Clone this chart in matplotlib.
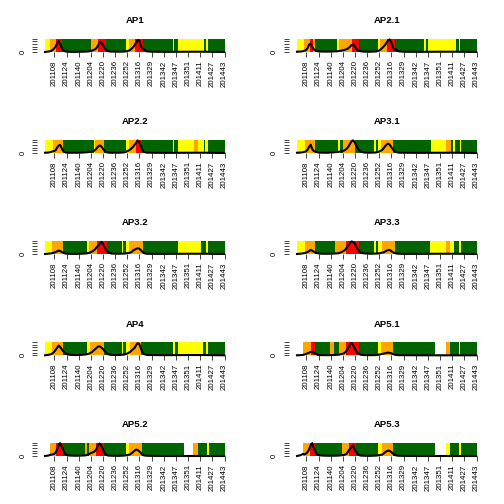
import numpy as np
import matplotlib
matplotlib.use("Agg")
import matplotlib.pyplot as plt

plt.rcParams["font.family"] = ["Liberation Sans", "DejaVu Sans"]

# x tick labels (one every 16 weeks of data)
week_labels = ["201108", "201124", "201140", "201204", "201220", "201236", "201252",
               "201316", "201329", "201342", "201347", "201351", "201411", "201427", "201443"]
n_weeks = 237

# alert level runs: Y yellow, O orange, R red, G green, W no data
ap1_levels = "YORGORGYORGYGYGYG"
ap1_ends = [7, 15, 23, 61, 70, 80, 107, 111, 118, 129, 168, 170, 175, 209, 212, 215, 237]
ap21_levels = "YOROGYORGYORGYGYGYG"
ap21_ends = [9, 17, 21, 24, 53, 55, 72, 81, 107, 109, 118, 129, 167, 170, 173, 210, 213, 215, 237]
ap22_levels = "YOGYOGYORGYGYOYGYG"
ap22_ends = [11, 24, 64, 66, 78, 107, 111, 120, 128, 168, 170, 175, 196, 202, 209, 211, 215, 237]
ap31_levels = "YOGYGOGYGYOGYOGYGYG"
ap31_ends = [10, 24, 54, 56, 61, 77, 101, 104, 107, 111, 127, 176, 196, 203, 206, 208, 214, 216, 237]
ap32_levels = "YOGYORGYGYOGYGYG"
ap32_ends = [9, 24, 55, 58, 68, 82, 101, 103, 107, 111, 129, 175, 206, 212, 215, 237]
ap33_levels = "YOGORGYGYOGYOYGYG"
ap33_ends = [10, 24, 50, 65, 81, 102, 104, 107, 112, 129, 175, 196, 201, 207, 213, 216, 237]
ap4_levels = "YOGYOGYGYOGYGYGYG"
ap4_ends = [9, 24, 55, 59, 78, 101, 103, 107, 112, 127, 169, 171, 175, 208, 212, 215, 237]
ap51_levels = "WORGOGORGYOGWOGYG"
ap51_ends = [8, 18, 24, 44, 49, 55, 64, 81, 107, 110, 126, 182, 196, 202, 213, 215, 237]
ap52_levels = "WORGOGORGYOGWOGYG"
ap52_ends = [7, 15, 24, 53, 55, 58, 67, 78, 107, 111, 128, 183, 195, 202, 213, 216, 237]
ap53_levels = "WORGORGYOGWYGYG"
ap53_ends = [8, 17, 24, 59, 68, 78, 107, 112, 126, 182, 196, 202, 213, 216, 237]

# incidence curve (scaled to panel height), read at these weeks
curve_weeks = [0, 4, 8, 10, 12, 14, 16, 18, 20, 22, 24, 26, 28, 30, 34, 40, 48, 54, 58, 62,
               64, 66, 68, 70, 72, 74, 76, 78, 80, 82, 84, 88, 96, 104, 108, 112, 114, 116, 118, 120,
               122, 124, 126, 128, 130, 132, 134, 140, 160, 190, 210, 236]
ap1_curve = [0.00, 0.03, 0.08, 0.15, 0.25, 0.40, 0.65, 0.81, 0.60, 0.30,
             0.12, 0.06, 0.03, 0.02, 0.01, 0.01, 0.02, 0.03, 0.05, 0.10,
             0.15, 0.20, 0.30, 0.50, 0.70, 0.72, 0.55, 0.35, 0.18, 0.10,
             0.05, 0.03, 0.02, 0.03, 0.06, 0.15, 0.25, 0.35, 0.50, 0.70,
             0.88, 0.85, 0.50, 0.25, 0.20, 0.12, 0.05, 0.02, 0.01, 0.02, 0.02, 0.00]
ap21_curve = [0.02, 0.03, 0.06, 0.10, 0.15, 0.30, 0.55, 0.62, 0.40, 0.20,
              0.13, 0.08, 0.05, 0.04, 0.03, 0.03, 0.04, 0.06, 0.10, 0.14,
              0.18, 0.22, 0.30, 0.40, 0.52, 0.55, 0.40, 0.25, 0.12, 0.08,
              0.05, 0.03, 0.02, 0.04, 0.10, 0.28, 0.40, 0.52, 0.70, 0.85,
              0.93, 0.75, 0.40, 0.15, 0.20, 0.10, 0.05, 0.02, 0.01, 0.02, 0.02, 0.00]
ap22_curve = [0.02, 0.03, 0.08, 0.12, 0.15, 0.20, 0.40, 0.55, 0.60, 0.35,
              0.15, 0.06, 0.03, 0.02, 0.02, 0.02, 0.03, 0.05, 0.08, 0.12,
              0.15, 0.22, 0.35, 0.48, 0.56, 0.50, 0.35, 0.18, 0.08, 0.04,
              0.03, 0.02, 0.02, 0.04, 0.12, 0.25, 0.35, 0.45, 0.60, 0.75,
              0.93, 0.80, 0.55, 0.25, 0.10, 0.05, 0.03, 0.02, 0.01, 0.02, 0.02, 0.00]
ap31_curve = [0.02, 0.03, 0.06, 0.09, 0.12, 0.25, 0.45, 0.62, 0.30, 0.15,
              0.10, 0.06, 0.04, 0.03, 0.02, 0.02, 0.05, 0.08, 0.12, 0.18,
              0.25, 0.35, 0.50, 0.70, 0.88, 0.93, 0.78, 0.55, 0.35, 0.18,
              0.10, 0.04, 0.02, 0.04, 0.10, 0.22, 0.35, 0.50, 0.62, 0.69,
              0.62, 0.45, 0.30, 0.15, 0.08, 0.05, 0.03, 0.02, 0.01, 0.02, 0.02, 0.00]
ap32_curve = [0.00, 0.02, 0.05, 0.07, 0.10, 0.15, 0.20, 0.25, 0.22, 0.15,
              0.10, 0.05, 0.03, 0.02, 0.01, 0.01, 0.02, 0.04, 0.08, 0.18,
              0.25, 0.35, 0.50, 0.62, 0.75, 0.90, 0.80, 0.55, 0.35, 0.18,
              0.10, 0.03, 0.02, 0.03, 0.06, 0.10, 0.15, 0.25, 0.32, 0.38,
              0.42, 0.40, 0.30, 0.18, 0.08, 0.04, 0.02, 0.01, 0.01, 0.02, 0.02, 0.00]
ap33_curve = [0.00, 0.02, 0.05, 0.07, 0.10, 0.15, 0.22, 0.30, 0.25, 0.18,
              0.12, 0.07, 0.05, 0.03, 0.02, 0.02, 0.03, 0.05, 0.12, 0.25,
              0.35, 0.50, 0.70, 0.85, 0.93, 0.88, 0.80, 0.55, 0.35, 0.18,
              0.10, 0.05, 0.02, 0.03, 0.05, 0.10, 0.12, 0.18, 0.25, 0.28,
              0.30, 0.22, 0.15, 0.08, 0.05, 0.03, 0.02, 0.01, 0.01, 0.02, 0.02, 0.00]
ap4_curve = [0.00, 0.03, 0.08, 0.15, 0.25, 0.40, 0.55, 0.72, 0.62, 0.45,
             0.30, 0.20, 0.10, 0.06, 0.03, 0.02, 0.03, 0.07, 0.12, 0.25,
             0.35, 0.45, 0.55, 0.66, 0.65, 0.58, 0.48, 0.35, 0.22, 0.12,
             0.06, 0.03, 0.02, 0.05, 0.12, 0.25, 0.35, 0.45, 0.55, 0.75,
             0.90, 0.85, 0.55, 0.25, 0.12, 0.06, 0.03, 0.02, 0.01, 0.02, 0.02, 0.00]
ap51_curve = [0.00, 0.01, 0.03, 0.06, 0.10, 0.15, 0.20, 0.25, 0.26, 0.20,
              0.12, 0.06, 0.03, 0.02, 0.01, 0.01, 0.02, 0.04, 0.08, 0.15,
              0.25, 0.40, 0.60, 0.85, 0.92, 0.75, 0.50, 0.30, 0.15, 0.08,
              0.04, 0.02, 0.01, 0.02, 0.05, 0.10, 0.12, 0.15, 0.18, 0.20,
              0.18, 0.15, 0.10, 0.06, 0.03, 0.02, 0.01, 0.01, 0.00, 0.00, 0.00, 0.00]
ap52_curve = [0.00, 0.03, 0.10, 0.12, 0.15, 0.25, 0.50, 0.80, 0.95, 0.70,
              0.45, 0.20, 0.10, 0.05, 0.03, 0.02, 0.03, 0.05, 0.15, 0.25,
              0.30, 0.38, 0.55, 0.80, 0.92, 0.78, 0.55, 0.25, 0.12, 0.05,
              0.03, 0.02, 0.01, 0.03, 0.06, 0.12, 0.20, 0.30, 0.40, 0.47,
              0.45, 0.35, 0.25, 0.10, 0.05, 0.03, 0.02, 0.01, 0.00, 0.00, 0.00, 0.00]
ap53_curve = [0.00, 0.05, 0.15, 0.12, 0.18, 0.30, 0.50, 0.80, 0.95, 0.60,
              0.35, 0.15, 0.08, 0.05, 0.03, 0.02, 0.02, 0.03, 0.05, 0.08,
              0.12, 0.20, 0.40, 0.55, 0.70, 0.78, 0.45, 0.30, 0.15, 0.06,
              0.03, 0.02, 0.01, 0.03, 0.06, 0.10, 0.18, 0.28, 0.35, 0.40,
              0.38, 0.30, 0.20, 0.10, 0.05, 0.03, 0.02, 0.01, 0.00, 0.00, 0.00, 0.00]

panels = [
    ("AP1", ap1_levels, ap1_ends, ap1_curve),
    ("AP2.1", ap21_levels, ap21_ends, ap21_curve),
    ("AP2.2", ap22_levels, ap22_ends, ap22_curve),
    ("AP3.1", ap31_levels, ap31_ends, ap31_curve),
    ("AP3.2", ap32_levels, ap32_ends, ap32_curve),
    ("AP3.3", ap33_levels, ap33_ends, ap33_curve),
    ("AP4", ap4_levels, ap4_ends, ap4_curve),
    ("AP5.1", ap51_levels, ap51_ends, ap51_curve),
    ("AP5.2", ap52_levels, ap52_ends, ap52_curve),
    ("AP5.3", ap53_levels, ap53_ends, ap53_curve),
]

level_colors = {"Y": "#FFFF00", "O": "#FFA500", "R": "#FF0000", "G": "#006400", "W": "#FFFFFF"}

W = H = 504
fig = plt.figure(figsize=(5.04, 5.04), dpi=100)

col_left = [45, 297]
row_top = [38.5, 139.5, 240.5, 341.8, 442.5]
band_w, band_h = 180, 13.5

for k, (name, levels, ends, curve) in enumerate(panels):
    r, c = divmod(k, 2)
    ax = fig.add_axes([col_left[c] / W, 1 - (row_top[r] + band_h) / H, band_w / W, band_h / H])

    # coloured alert-level band, one run at a time
    start = 0
    for lev, end in zip(levels, ends):
        ax.axvspan(start, end, color=level_colors[lev], lw=0)
        start = end

    ax.plot(curve_weeks, curve, color="black", lw=1.5, clip_on=False, zorder=3,
            solid_joinstyle="round")

    ax.set_xlim(0, n_weeks)
    ax.set_ylim(0, 1)

    ax.set_xticks(np.arange(len(week_labels)) * 16 + 12.4)
    ax.set_xticklabels(week_labels)
    ax.tick_params(axis="x", length=3.5, width=0.7, color="#444444", pad=2.5,
                   labelsize=5.7, labelrotation=90)

    ax.set_yticks(np.linspace(0, 1, 6))
    ax.set_yticklabels(["0", "", "", "", "", ""], va="center")
    ax.tick_params(axis="y", length=3.5, width=0.7, color="#444444", pad=4,
                   labelsize=5.4, labelrotation=90)

    for s in ax.spines.values():
        s.set_visible(False)
    ax.spines["left"].set_position(("outward", 6))

    ax.set_title(name, fontsize=6.8, fontweight="bold", pad=11)

fig.savefig("out.png", dpi=100)
